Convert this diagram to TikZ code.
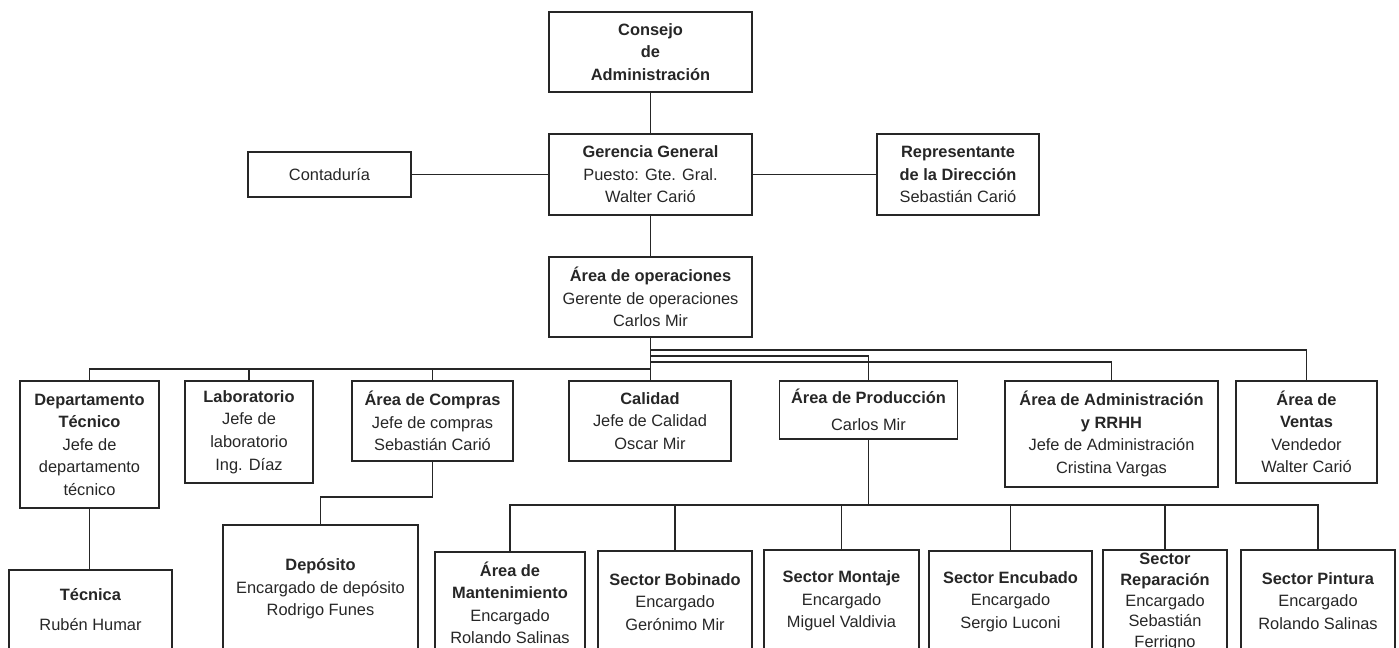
\documentclass[tikz,border=0pt]{standalone}
\usepackage{fontspec}
\setmainfont{Liberation Sans}
\usepackage{tikz}
\usetikzlibrary{calc}
\definecolor{linecolor}{HTML}{262626}

\tikzset{
  caja/.style={draw=linecolor, line width=1.2pt, align=center, inner sep=0pt,
    text=linecolor, font=\fontsize{12.3}{16.9}\selectfont},
  bw/.style={minimum width=#1*0.75pt},
  bh/.style={minimum height=#1*0.75pt},
  linea/.style={draw=linecolor, line width=1.2pt}
}

\begin{document}
\begin{tikzpicture}[x=0.75pt,y=-0.75pt]
\useasboundingbox (0,0) rectangle (1399,647);
\clip (0,0) rectangle (1399,647);
% direccion
\node[caja,bw=203,bh=80] (consejo) at (650.5,52) {\textbf{Consejo}\\ \textbf{de}\\ \textbf{Administración}};
\node[caja,bw=203,bh=81] (gerencia) at (650.5,174.5) {\textbf{Gerencia General}\\ Puesto: Gte. Gral.\\ Walter Carió};
\node[caja,bw=163,bh=45] (contaduria) at (329.5,174.5) {Contaduría};
\node[caja,bw=162,bh=81] (representante) at (958,174.5) {\textbf{Representante}\\ \textbf{de la Dirección}\\ Sebastián Carió};
\node[caja,bw=203,bh=80] (operaciones) at (650.5,297) {\textbf{Área de operaciones}\\ Gerente de operaciones\\ Carlos Mir};
% areas
\node[caja,bw=139,bh=127] (depto) at (89.5,444.5) {\textbf{Departamento}\\ \textbf{Técnico}\\ Jefe de\\ departamento\\ técnico};
\node[caja,bw=128,bh=102] (laboratorio) at (249,432) {\textbf{Laboratorio}\\ Jefe de\\ laboratorio\\ Ing. Díaz};
\node[caja,bw=161,bh=80] (compras) at (432.5,421) {\textbf{Área de Compras}\\ Jefe de compras\\ Sebastián Carió};
\node[caja,bw=162,bh=80] (calidad) at (650,421) {\textbf{Calidad}\\ Jefe de Calidad\\ Oscar Mir};
\node[caja,bw=178,bh=58] (produccion) at (868.5,410) {\textbf{Área de Producción}\\[3pt] Carlos Mir};
\node[caja,bw=213,bh=106] (administracion) at (1111.5,434) {\textbf{Área de Administración}\\ \textbf{y RRHH}\\ Jefe de Administración\\ Cristina Vargas};
\node[caja,bw=141,bh=102] (ventas) at (1306.5,432) {\textbf{Área de}\\ \textbf{Ventas}\\ Vendedor\\ Walter Carió};
% sectores
\node[caja,bw=163,bh=79] (tecnica) at (90.5,609.5) {\textbf{Técnica}\\[5pt] Rubén Humar};
\node[caja,bw=195,bh=128] (deposito) at (320.5,589) {\textbf{Depósito}\\ Encargado de depósito\\ Rodrigo Funes};
\node[caja,bw=150,bh=102] (mantenimiento) at (510,603) {\textbf{Área de}\\ \textbf{Mantenimiento}\\ Encargado\\ Rolando Salinas};
\node[caja,bw=154,bh=102] (bobinado) at (675,602) {\textbf{Sector Bobinado}\\ Encargado\\ Gerónimo Mir};
\node[caja,bw=155,bh=102] (montaje) at (841.5,601) {\textbf{Sector Montaje}\\ Encargado\\ Miguel Valdivia};
\node[caja,bw=163,bh=101] (encubado) at (1010.5,601.5) {\textbf{Sector Encubado}\\ Encargado\\ Sergio Luconi};
\node[caja,bw=124,bh=104,font=\fontsize{12.3}{15.5}\selectfont] (reparacion) at (1165,602) {\textbf{Sector}\\ \textbf{Reparación}\\ Encargado\\ Sebastián\\ Ferrigno};
\node[caja,bw=154,bh=102] (pintura) at (1318,601) {\textbf{Sector Pintura}\\ Encargado\\ Rolando Salinas};

\draw[linea] (consejo) -- (gerencia);
\draw[linea] (contaduria) -- (gerencia);
\draw[linea] (gerencia) -- (representante);
\draw[linea] (gerencia) -- (operaciones);
\draw[linea] (operaciones.south) -- (operaciones.south |- calidad.north);
\draw[linea] (operaciones.south |- 0,350) -| (ventas.north);
\draw[linea] (operaciones.south |- 0,356) -| (produccion.north);
\draw[linea] (operaciones.south |- 0,362) -| (administracion.north);
\foreach \n in {depto,laboratorio,compras}
    \draw[linea] (operaciones.south |- 0,369) -| (\n.north);
\draw[linea] (compras.south) -- (compras.south |- 0,497) -| (deposito.north);
\draw[linea] (depto.south) -- (depto.south |- tecnica.north);
\draw[linea] (produccion.south) -- (produccion.south |- 0,505);
\foreach \n in {mantenimiento,bobinado,montaje,encubado,reparacion,pintura}
    \draw[linea] (produccion.south |- 0,505) -| (\n.north);
\end{tikzpicture}
\end{document}
